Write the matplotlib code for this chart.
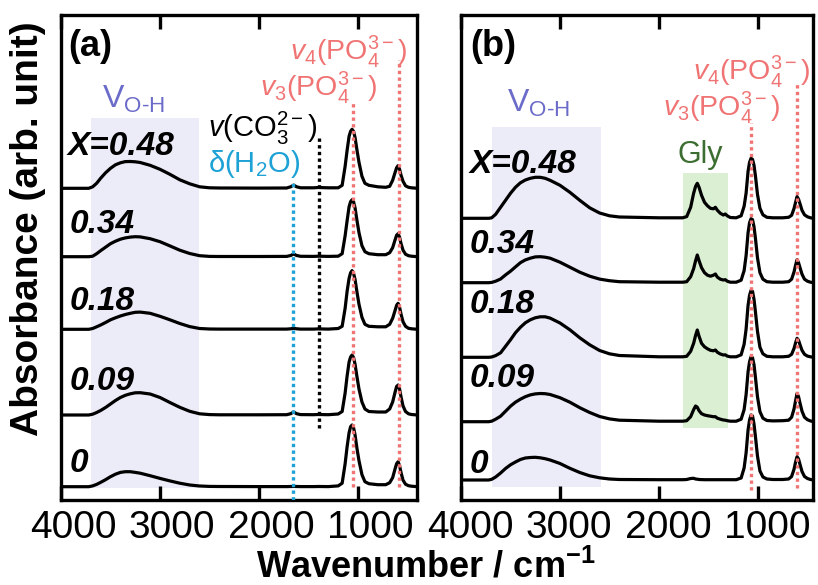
import numpy as np
import matplotlib
matplotlib.use('Agg')
import matplotlib.pyplot as plt
from matplotlib.transforms import ScaledTranslation

plt.rcParams['font.family'] = 'Liberation Sans'
plt.rcParams['mathtext.fontset'] = 'custom'
plt.rcParams['mathtext.rm'] = 'Liberation Sans'
plt.rcParams['mathtext.it'] = 'Liberation Sans:italic'
plt.rcParams['mathtext.bf'] = 'Liberation Sans:bold'
plt.rcParams['mathtext.sf'] = 'Liberation Sans'

# ---- data (absorbance in arbitrary units) ----
labels = ['X=0.48', '0.34', '0.18', '0.09', '0']

# panel (a)
wn_a = [4000, 3720, 3680, 3640, 3600, 3550, 3500, 3450, 3400, 3350, 3300, 3250, 3200, 3100,
        3000, 2900, 2800, 2700, 2600, 2500, 2400, 2000,
        1720, 1680, 1650, 1620, 1580, 1450, 1400, 1300,
        1200, 1160, 1130, 1110, 1090, 1075, 1060, 1045, 1030, 1010, 990, 960, 930, 890, 800,
        720, 680, 650, 625, 610, 595, 580, 565, 545, 520, 490, 460, 400]
a_048 = [0, 0, 1.5, 5, 10, 15.5, 20, 23.5, 25.5, 26.7, 26.8, 26.5, 25.8, 23, 19, 14, 8.5, 4.5, 1.5, 0.5, 0.3, 0.2,
         0.3, 1.5, 3.2, 1.5, 0.5, 0.5, 0.8, 0.5,
         0.5, 3, 22, 38, 52, 57, 59, 57, 51, 38, 26, 12, 5, 3, 1.5,
         1, 2, 8, 16, 20.5, 22.7, 19, 13, 7, 2.5, 1, 0.5, 0]
a_034 = [0, 0, 0.5, 3, 6, 9.5, 13, 15.5, 17.5, 18.8, 19.6, 20, 19.8, 18, 15, 10.8, 6.5, 3.2, 1, 0.3, 0.2, 0.2,
         0.3, 1.2, 2.7, 1.2, 0.4, 0.3, 0.5, 0.3,
         0.5, 3, 21, 36, 50, 55, 57, 55, 49, 36, 24, 11, 5, 3, 2,
         2, 4, 9, 17, 21.5, 23, 19.5, 13, 6.5, 2.5, 1, 0.5, 0]
a_018 = [0, 0, 0.8, 2.5, 4.3, 6.8, 9.5, 11.5, 13.3, 14.8, 16, 17, 17.2, 16, 13, 9.5, 5.8, 2.7, 0.8, 0.3, 0.2, 0.2,
         0.2, 0.5, 1, 0.5, 0.2, 0.2, 0.4, 0.2,
         0.8, 3, 21, 38, 51, 56.5, 58.7, 56, 50, 37, 25, 12, 5, 3, 2.5,
         2.5, 5, 11, 19, 24, 26, 22, 15, 7.5, 3, 1, 0.5, 0]
a_009 = [0, 0, 0.8, 2.5, 4.5, 7.5, 11, 14.5, 17.5, 19.7, 21.2, 22.2, 22.3, 21, 17.5, 12.5, 7.7, 3.7, 1.2, 0.4, 0.2, 0.2,
         0.3, 1.3, 3, 1.3, 0.4, 0.3, 0.5, 0.3,
         1, 3.5, 22, 39, 53, 58, 60, 57.5, 51, 38, 26, 13, 6, 3.5, 3,
         3, 6, 13, 23, 28.5, 30, 26, 18, 9, 3.5, 1.2, 0.5, 0]
a_000 = [0, 0, 0.8, 2.3, 4.3, 7, 10, 12.5, 14.3, 15, 15, 14.3, 13.5, 11, 8.3, 5.8, 3.5, 1.7, 0.7, 0.3, 0.2, 0.1,
         0.1, 0.2, 0.3, 0.2, 0.1, 0.1, 0.2, 0.1,
         0.8, 3.5, 23, 40, 54, 60, 61.7, 59, 52, 38, 26, 12, 5, 3, 2,
         2, 4, 9, 18, 23, 25, 21, 14, 6.5, 2.5, 1, 0.5, 0]
offsets_a = [311.7, 243.3, 170.7, 85, 13.3]

# panel (b)
wn_b = [4000, 3720, 3690, 3650, 3600, 3550, 3500, 3450, 3400, 3350, 3300, 3250, 3200, 3150, 3100,
        3000, 2900, 2800, 2700, 2600, 2500, 2400, 2000, 1760,
        1720, 1680, 1650, 1630, 1613, 1595, 1570, 1540, 1510, 1480, 1450, 1430, 1410, 1380, 1350, 1330, 1310, 1280,
        1220, 1170, 1140, 1120, 1100, 1085, 1070, 1055, 1040, 1025, 1005, 980, 950, 910, 850, 750,
        690, 660, 635, 620, 605, 590, 575, 555, 530, 500, 470, 440]
b_048 = [0, 0, 0.5, 4, 11, 18, 25, 31, 35.5, 38.3, 40, 41, 41, 40, 38, 33, 26, 18, 10.5, 5.3, 2.5, 1.3, 0.5, 0.5,
         1.7, 11, 25, 32, 35, 31, 23, 16, 12.5, 10, 9.5, 11, 8, 5, 3.3, 4.3, 2.5, 0.8,
         0.5, 2.5, 12, 25, 47, 56, 60, 59, 53, 42, 24, 10, 3.5, 1, 0.5, 0.5,
         1, 3, 10, 16, 21.7, 19, 14.5, 8, 3.5, 1.5, 0.5, 0]
b_034 = [0, 0, 0.3, 1.5, 3.7, 7.8, 11.5, 15.8, 20, 22.8, 24.5, 25.8, 26, 25.5, 24.5, 20.5, 15.5, 10.5, 6.5, 3.6, 2, 1, 0.5, 0.5,
         1, 6, 14, 22, 27.7, 22, 15, 10, 7.5, 6.5, 7.5, 8.7, 5.5, 3.5, 2.7, 3, 1.5, 0.5,
         0.5, 2.5, 12, 27, 50, 60, 64, 63, 56, 44, 25, 10, 3.5, 1, 0.5, 0.5,
         1, 3.5, 11, 17.5, 23, 20, 15, 8.5, 3.5, 1.5, 0.5, 0]
b_018 = [0, 0, 0.3, 1.7, 4.5, 11, 17.5, 24.5, 30, 34.5, 37.5, 39.5, 40.5, 40.5, 39.2, 34.3, 27.5, 19.5, 12.5, 6.8, 3.5, 1.8, 0.5, 0.5,
         1, 6, 14, 22, 27.3, 21, 14, 10.5, 8.5, 7, 6.5, 7.3, 5, 3.3, 2.3, 2.5, 1.2, 0.5,
         0.5, 2.5, 13, 28, 52, 62, 67, 66, 58, 45, 26, 10, 3.5, 1, 0.5, 0.5,
         1, 3, 9, 14.5, 19, 17, 12.5, 7, 3, 1.2, 0.5, 0]
b_009 = [0, 0, 0.5, 2.5, 5.5, 10.5, 15.5, 19.5, 22.5, 25, 26.8, 27.8, 28.2, 28, 27.2, 24, 19.5, 14, 9.2, 5.2, 2.8, 1.5, 0.5, 0.5,
         1, 5, 12, 15.7, 14.5, 11, 8, 6.7, 6, 5.5, 5, 5, 3.5, 2.5, 1.7, 1.5, 1, 0.5,
         0.5, 2.5, 12, 27, 50, 60, 65, 64, 57, 44, 25, 10, 3.5, 1.2, 0.8, 1,
         1.5, 4.5, 13, 21, 28.3, 25, 18.5, 10.5, 4.5, 2, 0.8, 0]
b_000 = [0, 0, 0.7, 3, 7, 11.5, 15.2, 18, 20.5, 22, 22.5, 22.7, 22.2, 21.3, 20, 16.5, 11.7, 7.5, 4.2, 2.2, 1, 0.5, 0.3, 0.3,
         0.5, 1.5, 1.7, 1, 0.8, 0.5, 0.4, 0.3, 0.3, 0.3, 0.3, 0.3, 0.3, 0.3, 0.3, 0.3, 0.3, 0.3,
         0.3, 2, 12, 27, 50, 60, 65, 64, 56, 43, 24, 9, 3, 1, 0.5, 0.5,
         1, 3.5, 11, 18, 23.3, 21, 15.5, 8.5, 3.5, 1.5, 0.5, 0]
offsets_b = [281.7, 217.3, 142.7, 78.3, 20]

# band assignments (wavenumber, cm-1)
v3_a, v4_a, h2o_a, co3_a = 1047, 582, 1653, 1395
v3_b, v4_b = 1068, 607
oh_band_a = (3697, 2606)
oh_band_b = (3684, 2589)
gly_band = (1754, 1300)

RED = '#f07474'
LAV = '#6b6bc9'
LAV_BG = '#ececf8'
GRN_BG = '#dbefd3'
GRN = '#3d6e31'
BLUE = '#1ea2d6'

fig = plt.figure(figsize=(8.18, 5.85), dpi=100)
ax_a = fig.add_axes([61/818, 85/585, 356/818, 485/585])
ax_b = fig.add_axes([461/818, 85/585, 352/818, 485/585])


def style(ax, xmax_right, dx):
    ax.set_xlim(4000, xmax_right)
    ax.set_ylim(0, 485)
    ax.set_yticks([])
    ax.set_xticks([4000, 3000, 2000, 1000])
    ax.set_xticklabels(['4000', '3000', '2000', '1000'])
    ax.tick_params(axis='x', direction='in', top=True, length=10, width=2.4,
                   labelsize=28, pad=7)
    off = ScaledTranslation(dx/100, 0, fig.dpi_scale_trans)
    for lab in ax.get_xticklabels():
        lab.set_transform(lab.get_transform() + off)
    for s in ax.spines.values():
        s.set_linewidth(2.4)


def dotted(ax, w, y0, y1, color):
    ax.plot([w, w], [y0, y1], color=color, lw=2.4, ls=(0, (1, 1)),
            dash_capstyle='butt', zorder=3)


style(ax_a, 404, 12)
style(ax_b, 444, 9)

# panel (a)
ax_a.fill_between(oh_band_a, 12, 382, color=LAV_BG, lw=0, zorder=0)
for vals, off in zip([a_048, a_034, a_018, a_009, a_000], offsets_a):
    ax_a.plot(wn_a, np.array(vals) + off, color='black', lw=2.3, zorder=2,
              solid_joinstyle='round')
dotted(ax_a, v3_a, 13, 397, RED)
dotted(ax_a, v4_a, 13, 440, RED)
dotted(ax_a, h2o_a, 0, 320, BLUE)
dotted(ax_a, co3_a, 72, 363, 'black')

# panel (b)
ax_b.fill_between(oh_band_b, 13, 373, color=LAV_BG, lw=0, zorder=0)
ax_b.fill_between(gly_band, 72, 327, color=GRN_BG, lw=0, zorder=0)
for vals, off in zip([b_048, b_034, b_018, b_009, b_000], offsets_b):
    ax_b.plot(wn_b, np.array(vals) + off, color='black', lw=2.3, zorder=2,
              solid_joinstyle='round')
dotted(ax_b, v3_b, 10, 377, RED)
dotted(ax_b, v4_b, 12, 417, RED)

# annotations
lab_kw = dict(fontsize=24, fontweight='bold', fontstyle='italic', va='baseline', ha='left')
for lab, y in zip(labels, [345, 267, 190, 110, 28]):
    ax_a.text(3929 if lab.startswith('X') else 3909, y, lab, **lab_kw)
for lab, y in zip(labels, [327, 247, 187, 113, 27]):
    ax_b.text(3909, y, lab, **lab_kw)

ax_a.text(3929, 454, '(a)', fontsize=26, fontweight='bold', va='center', ha='left')
ax_b.text(3909, 454, '(b)', fontsize=26, fontweight='bold', va='center', ha='left')

oh_txt = r'$\mathrm{V_{O\text{-}H}}$'
ax_a.text(3586, 392, oh_txt, fontsize=23, color=LAV, va='baseline', ha='left')
ax_b.text(3535, 388, oh_txt, fontsize=23, color=LAV, va='baseline', ha='left')

v4_txt = r'$\mathit{v_4}\mathrm{(PO_4^{3-})}$'
v3_txt = r'$\mathit{v_3}\mathrm{(PO_4^{3-})}$'
ax_a.text(505, 440, v4_txt, fontsize=20.5, color=RED, va='baseline', ha='right')
ax_a.text(808, 404, v3_txt, fontsize=20.5, color=RED, va='baseline', ha='right')
ax_b.text(475, 420, v4_txt, fontsize=20.5, color=RED, va='baseline', ha='right')
ax_b.text(778, 384, v3_txt, fontsize=20.5, color=RED, va='baseline', ha='right')

ax_a.text(2515, 363, r'$\mathit{v}\mathrm{(CO_3^{2-})}$', fontsize=21, color='black',
          va='baseline', ha='left')
ax_a.text(2515, 328, r'$\mathrm{δ(H_2O)}$', fontsize=21, color=BLUE,
          va='baseline', ha='left')
ax_b.text(1808, 337, 'Gly', fontsize=22, color=GRN, va='baseline', ha='left')

fig.text(426/818, 8/585, r'Wavenumber / cm$^{\mathbf{-1}}$', fontsize=26,
         fontweight='bold', ha='center', va='baseline')
fig.text(28/818, 1 - 229/585, 'Absorbance (arb. unit)', fontsize=28,
         fontweight='bold', rotation=90, ha='center', va='center')

fig.savefig('out.png', dpi=100)
